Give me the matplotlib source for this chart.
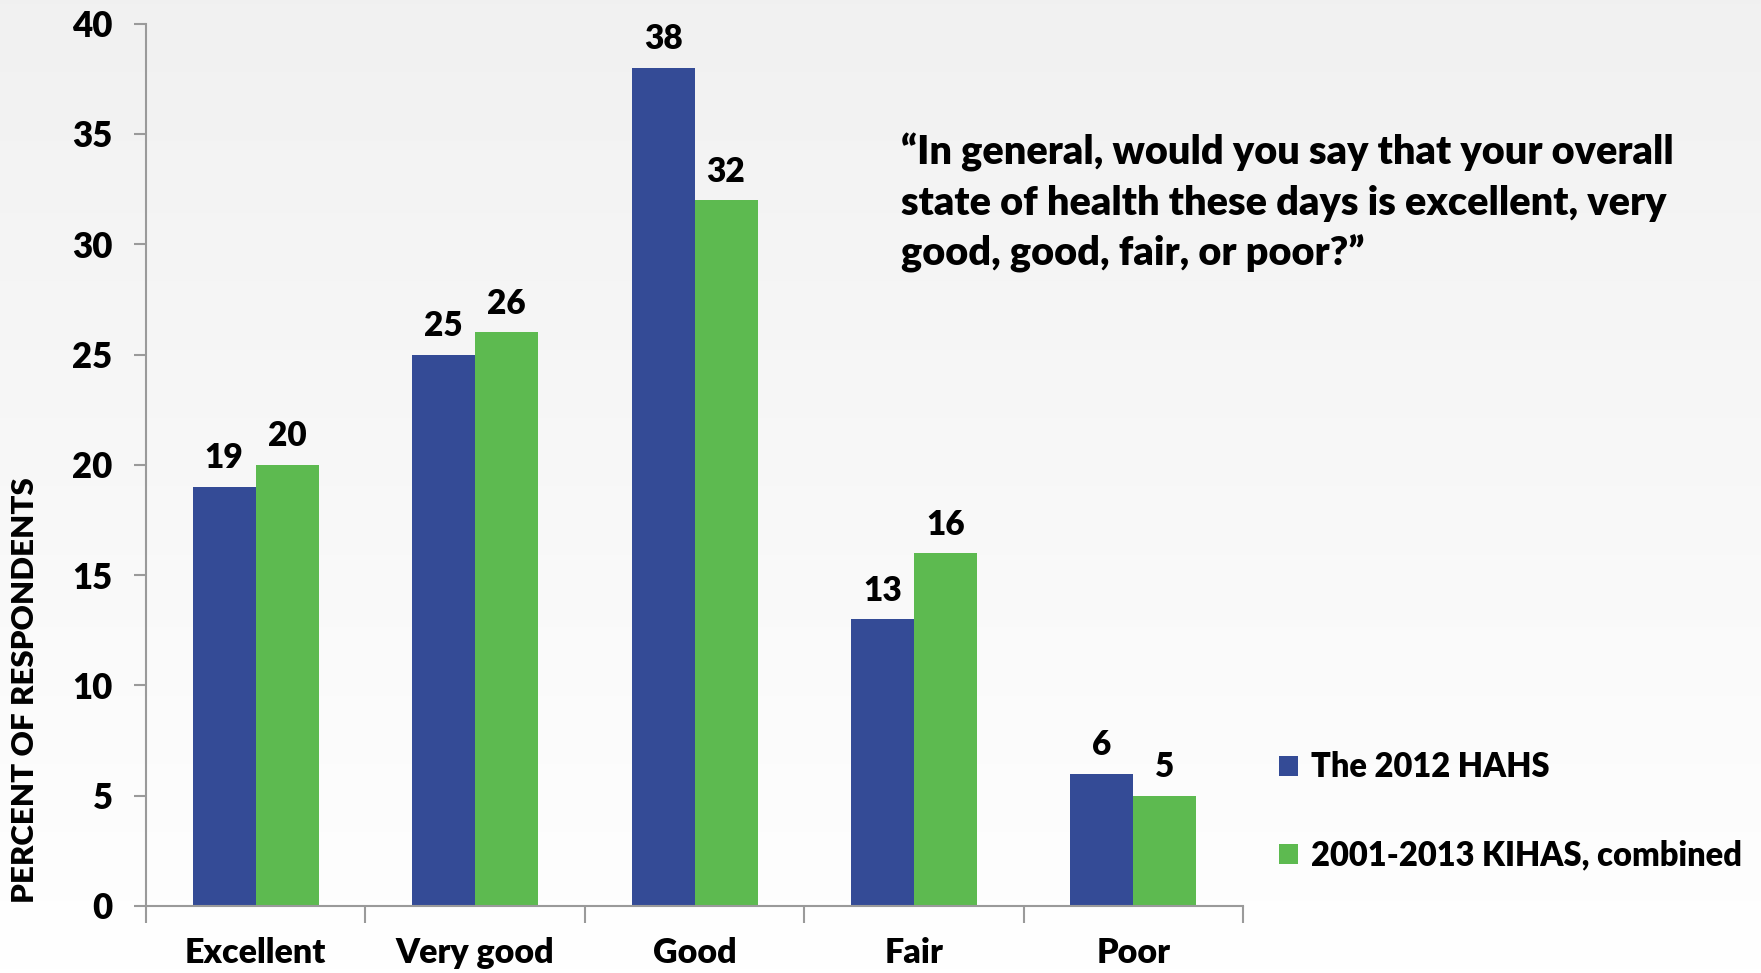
import numpy as np
import matplotlib.pyplot as plt

categories = ["Excellent", "Very good", "Good", "Fair", "Poor"]
hahs_2012 = [19, 25, 38, 13, 6]
kihas_combined = [20, 26, 32, 16, 5]
series_names = ["The 2012 HAHS", "2001-2013 KIHAS, combined"]
yticks = [0, 5, 10, 15, 20, 25, 30, 35, 40]
question = ("\u201cIn general, would you say that your overall\n"
            "state of health these days is excellent, very\n"
            "good, good, fair, or poor?\u201d")

plt.rcParams["font.family"] = ["Lato", "DejaVu Sans"]
plt.rcParams["font.weight"] = "heavy"
wt = "heavy"

blue = "#344B96"
green = "#5DBA50"
gray = "#9a9a9a"

fig = plt.figure(figsize=(17.61, 9.73), dpi=100)

# fondo con degradado gris claro -> blanco
bg = fig.add_axes([0, 0, 1, 1], zorder=-10)
grad = np.linspace(0.945, 1.0, 256).reshape(-1, 1)
bg.imshow(np.dstack([grad, grad, grad]), aspect="auto", extent=[0, 1, 0, 1])
bg.axis("off")

ax = fig.add_axes([0.0829, 0.0689, 0.6230, 0.9068])
ax.patch.set_alpha(0)

x = np.arange(len(categories))
w = 0.287
b1 = ax.bar(x - w / 2, hahs_2012, w, color=blue, label=series_names[0])
b2 = ax.bar(x + w / 2, kihas_combined, w, color=green, label=series_names[1])

for bars, vals in [(b1, hahs_2012), (b2, kihas_combined)]:
    for r, v in zip(bars, vals):
        ax.annotate(str(v), (r.get_x() + r.get_width() / 2, v),
                    xytext=(0, 9), textcoords="offset points",
                    ha="center", va="bottom", fontsize=24, fontweight=wt)

ax.set_xlim(-0.5, len(categories) - 0.5)
ax.set_ylim(0, 40)
ax.set_yticks(yticks)
ax.set_yticklabels([str(t) for t in yticks], fontsize=25, fontweight=wt)
ax.tick_params(axis="y", length=9, width=1.5, color=gray, pad=15)

ax.set_xticks(np.arange(-0.5, len(categories)), minor=False)
ax.set_xticklabels([])
ax.set_xticks(x, minor=True)
ax.set_xticklabels(categories, minor=True, fontsize=24.5, fontweight=wt)
ax.tick_params(axis="x", which="major", length=12, width=1.5, color=gray)
ax.tick_params(axis="x", which="minor", length=0, pad=22)

for s in ["top", "right"]:
    ax.spines[s].set_visible(False)
for s in ["left", "bottom"]:
    ax.spines[s].set_color(gray)
    ax.spines[s].set_linewidth(1.5)

fig.text(0.0142, 0.291, "PERCENT OF RESPONDENTS", rotation=90,
         ha="center", va="center", fontsize=22.5, fontweight=wt)

fig.text(0.5117, 0.791, question, ha="left", va="center",
         fontsize=28.5, fontweight=wt, linespacing=1.42)

fig.legend(handles=[b1, b2], loc="center left",
           bbox_to_anchor=(0.719, 0.166), frameon=False,
           prop={"size": 23.5, "weight": wt}, handlelength=0.58, handleheight=0.58,
           handletextpad=0.38, labelspacing=1.72, borderaxespad=0)

fig.savefig("out.png", dpi=100)
